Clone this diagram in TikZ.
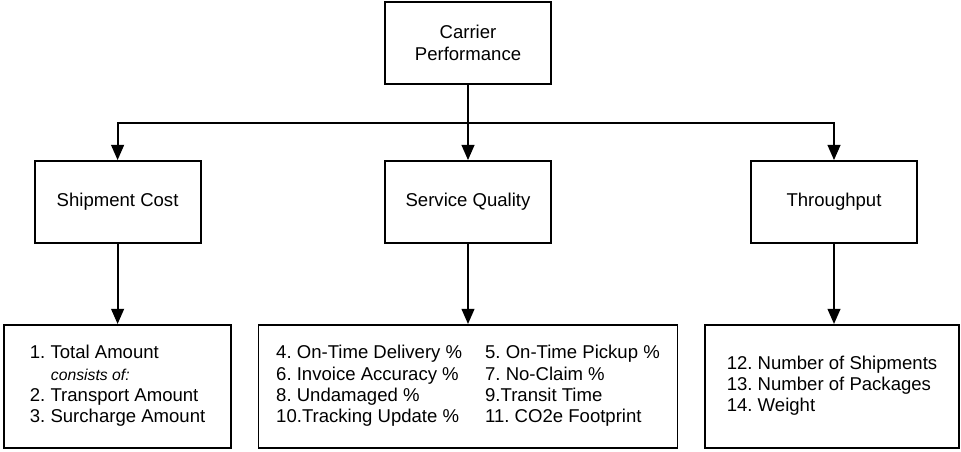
\documentclass[tikz,border=0pt]{standalone}
\usepackage{fontspec}
\setmainfont{Liberation Sans}
\usetikzlibrary{arrows.meta,positioning}
\frenchspacing
\tikzset{
	box/.style={draw, line width=1.3pt, minimum width=4.15cm, minimum height=2.05cm, align=center, inner sep=0pt},
	listbox/.style={draw, line width=1.3pt, minimum height=3.075cm, align=left, inner sep=0pt},
	arr/.style={-{Triangle[length=0.38cm,width=0.32cm]}, line width=1.3pt}
}

\begin{document}
\begin{tikzpicture}[font=\fontsize{13.2}{15}\selectfont]
	\useasboundingbox (0,0) rectangle (24.025,-11.275);
	% top level
	\node[box] (perf) at (11.7,-1.075) {Carrier\\[1pt]Performance};
	\coordinate (split) at (11.7,-3.075);
	% categories
	\node[box] (cost) at (2.94,-5.05) {Shipment Cost};
	\node[box] (qual) at (11.7,-5.05) {Service Quality};
	\node[box] (thru) at (20.85,-5.05) {Throughput};
	% metrics
	\node[listbox, minimum width=5.675cm] (costlist) at (2.94,-9.66) {%
		\begin{tabular}{@{}l@{}}
			1. Total Amount\\
			\hspace*{0.525cm}{\itshape\fontsize{11.2}{13}\selectfont consists of:}\\
			2. Transport Amount\\
			3. Surcharge Amount
		\end{tabular}};
	\node[listbox, minimum width=10.475cm] (quallist) at (11.7,-9.66) {%
		\begin{tabular}{@{}l@{\hspace{0.575cm}}l@{}}
			4. On-Time Delivery \% & 5. On-Time Pickup \%\\
			6. Invoice Accuracy \% & 7. No-Claim \%\\
			8. Undamaged \% & 9.Transit Time\\
			10.Tracking Update \% & 11. CO2e Footprint
		\end{tabular}};
	\node[listbox, minimum width=6.35cm] (thrulist) at (20.8,-9.66) {%
		\begin{tabular}{@{}l@{}}
			12. Number of Shipments\\
			13. Number of Packages\\
			14. Weight
		\end{tabular}};
	% connectors
	\draw[arr] (perf) -- (qual);
	\draw[arr] (split) -| (cost);
	\draw[arr] (split) -| (thru);
	\draw[arr] (cost) -- (costlist);
	\draw[arr] (qual) -- (quallist);
	\draw[arr] (thru) -- (thru |- thrulist.north);
\end{tikzpicture}
\end{document}
